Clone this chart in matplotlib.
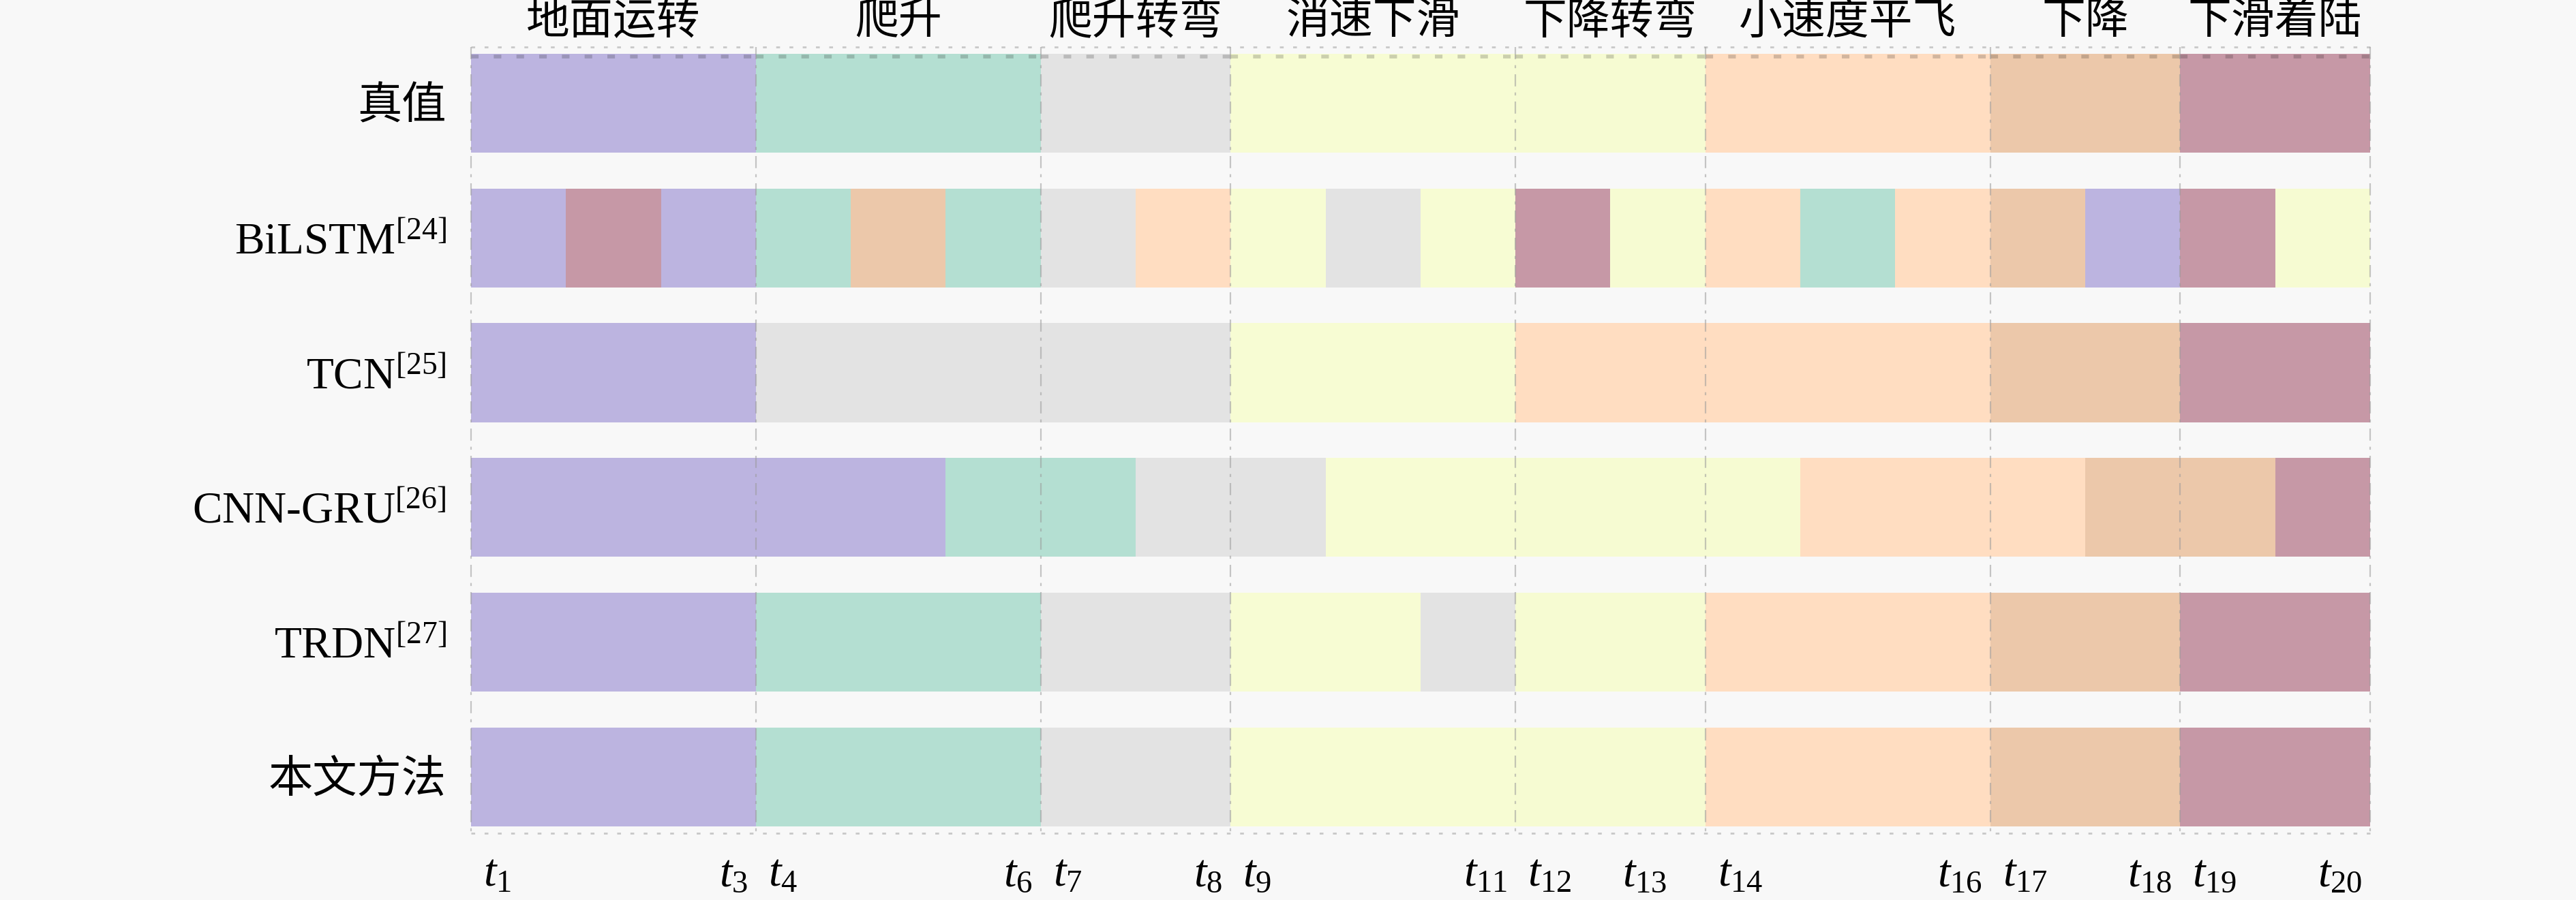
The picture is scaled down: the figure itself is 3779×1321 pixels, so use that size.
"""
飞行阶段识别结果对比 — 各模型分段色带图.
"""

import matplotlib
matplotlib.use("Agg")

import matplotlib.pyplot as plt
import matplotlib.colors as mcolors
import matplotlib.transforms as mtransforms

plt.rcParams["font.family"] = ["Liberation Serif", "Noto Sans CJK SC"]
plt.rcParams["mathtext.fontset"] = "custom"
plt.rcParams["mathtext.rm"] = "Liberation Serif"
plt.rcParams["mathtext.it"] = "Liberation Serif:italic"

# 飞行阶段及颜色
PHASES = ["地面运转", "爬升", "爬升转弯", "消速下滑", "下降转弯", "小速度平飞", "下降", "下滑着陆"]
PHASE_COLORS = ["#bcb4e0", "#b4dfd2", "#e3e3e3", "#f7fcd3", "#f6fbd2", "#ffddc1", "#ecc8aa", "#c698a6"]

MODELS = ["真值", "BiLSTM$^{[24]}$", "TCN$^{[25]}$", "CNN-GRU$^{[26]}$", "TRDN$^{[27]}$", "本文方法"]

# 每个模型: 分段边界 + 每段对应阶段编号
truth_edges = [0, 3, 6, 8, 11, 13, 16, 18, 20]
truth_phase = [0, 1, 2, 3, 4, 5, 6, 7]
bilstm_edges = [0, 1, 2, 3, 4, 5, 6, 7, 8, 9, 10, 11, 12, 13, 14, 15, 16, 17, 18, 19, 20]
bilstm_phase = [0, 7, 0, 1, 6, 1, 2, 5, 3, 2, 3, 7, 4, 5, 1, 5, 6, 0, 7, 4]
tcn_edges = [0, 3, 8, 11, 16, 18, 20]
tcn_phase = [0, 2, 3, 5, 6, 7]
cnngru_edges = [0, 5, 7, 9, 11, 14, 17, 19, 20]
cnngru_phase = [0, 1, 2, 3, 4, 5, 6, 7]
trdn_edges = [0, 3, 6, 8, 10, 11, 13, 16, 18, 20]
trdn_phase = [0, 1, 2, 3, 2, 4, 5, 6, 7]
ours_edges = [0, 3, 6, 8, 11, 13, 16, 18, 20]
ours_phase = [0, 1, 2, 3, 4, 5, 6, 7]

ROWS = [
    (truth_edges, truth_phase),
    (bilstm_edges, bilstm_phase),
    (tcn_edges, tcn_phase),
    (cnngru_edges, cnngru_phase),
    (trdn_edges, trdn_phase),
    (ours_edges, ours_phase),
]

# 时间刻度: 位置 / 标签 / 对齐方式
TICK_POS = [0, 3, 3, 6, 6, 8, 8, 11, 11, 12, 13, 16, 16, 18, 18, 20]
TICK_NUM = [1, 3, 4, 6, 7, 8, 9, 11, 12, 13, 14, 16, 17, 18, 19, 20]
TICK_SIDE = ["l", "r", "l", "r", "l", "r", "l", "r", "l", "l", "l", "r", "l", "r", "l", "r"]

BG = "#f8f8f8"
BAR_H = 0.735


def darker(c, f=0.82):
    r, g, b = mcolors.to_rgb(c)
    return (r * f, g * f, b * f)


def main():
    fig = plt.figure(figsize=(37.8, 13.21), dpi=100, facecolor=BG)
    ax = fig.add_axes([0.1828, 0.062, 0.737, 0.898], facecolor=BG)

    for i, (edges, phase) in enumerate(ROWS):
        lefts = edges[:-1]
        widths = [b - a for a, b in zip(edges[:-1], edges[1:])]
        colors = [PHASE_COLORS[p] for p in phase]
        ax.barh([i] * len(lefts), widths, left=lefts, height=BAR_H,
                color=colors, linewidth=0, zorder=2)
        if i == 0:
            # 真值条带顶部虚线
            for a, w, c in zip(lefts, widths, colors):
                ax.hlines(i - BAR_H / 2 + 0.02, a, a + w, colors=[darker(c)],
                          linestyles=(0, (2, 4)), lw=4, zorder=3)

    # 阶段分界竖线
    for x in truth_edges:
        ax.vlines(x, -0.42, 5.42, colors="#9a9a9a", linestyles=(0, (8, 4, 2, 4)),
                  lw=1.6, alpha=0.55, zorder=4, clip_on=False)
    ax.hlines([-0.42, 5.42], 0, 20, colors="#c8c8c8", linestyles=(0, (2, 5)),
              lw=2, zorder=1, clip_on=False)

    # 顶部阶段名称
    top = mtransforms.blended_transform_factory(ax.transData, ax.transAxes)
    for k, name in enumerate(PHASES):
        cx = (truth_edges[k] + truth_edges[k + 1]) / 2
        ax.text(cx, 1.016, name, transform=top, ha="center", va="center",
                fontsize=46, color="black")

    # 底部时间刻度
    for x, n, side in zip(TICK_POS, TICK_NUM, TICK_SIDE):
        dx = -0.12 if side == "r" else 0.18
        tr = top + mtransforms.ScaledTranslation(dx, 0, fig.dpi_scale_trans)
        ax.text(x, -0.012, f"$t_{{{n}}}$", transform=tr,
                ha="right" if side == "r" else "left", va="top", fontsize=48)

    ax.set_xlim(0, 20)
    ax.set_ylim(5.5, -0.5)
    ax.set_xticks([])
    ax.set_yticks(range(len(MODELS)))
    ax.set_yticklabels(MODELS, fontsize=47)
    ax.tick_params(axis="y", length=0, pad=26)
    for s in ax.spines.values():
        s.set_visible(False)

    fig.savefig("out.png", dpi=100, facecolor=BG)
    plt.close(fig)


if __name__ == "__main__":
    main()
